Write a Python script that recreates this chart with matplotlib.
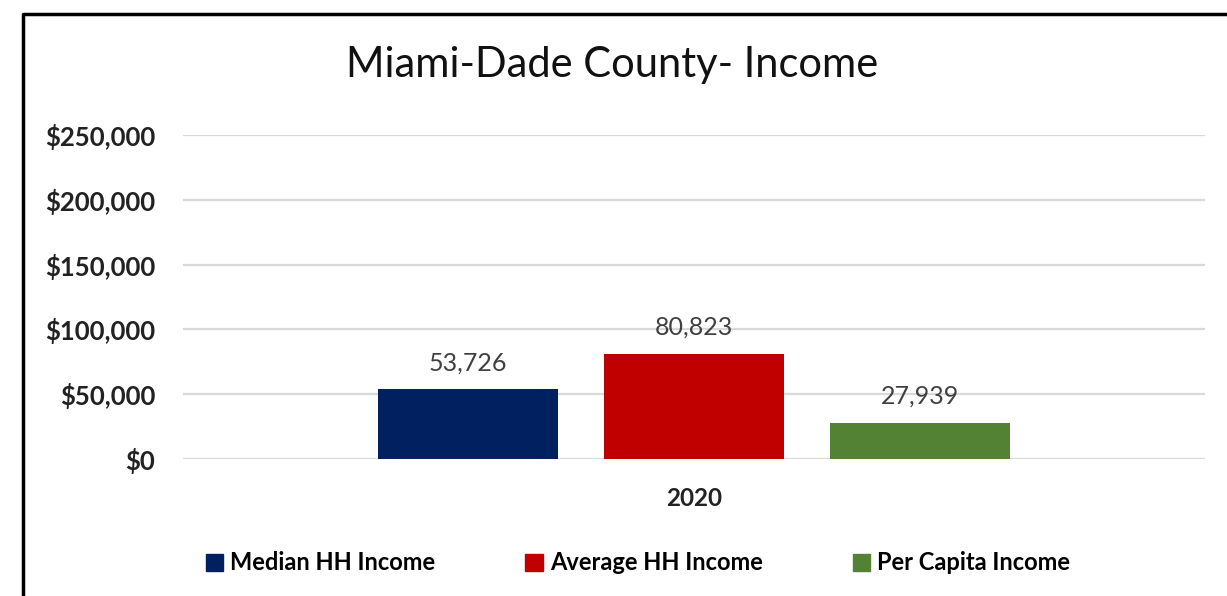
import matplotlib.pyplot as plt
from matplotlib.lines import Line2D
from matplotlib.patches import Patch

plt.rcParams['font.family'] = ['Lato', 'DejaVu Sans']

# data
year = ['2020']
series = ['Median HH Income', 'Average HH Income', 'Per Capita Income']
values = [53726, 80823, 27939]
colors = ['#002060', '#C00000', '#548235']
yticks = [0, 50000, 100000, 150000, 200000, 250000]

fig = plt.figure(figsize=(12.27, 5.96), dpi=100)
ax = fig.add_axes([183 / 1227, 1 - 459 / 596, (1205 - 183) / 1227, (459 - 135) / 596])

offsets = [-0.221, 0, 0.221]
w = 0.176
for off, v, c in zip(offsets, values, colors):
    ax.bar(off, v, width=w, color=c, zorder=3)
    ax.annotate(f'{v:,}', (off, v), xytext=(0, 11), textcoords='offset points',
                ha='center', va='bottom', fontsize=18, color='#404040')

ax.set_xlim(-0.5, 0.5)
ax.set_ylim(0, 250000)
ax.set_yticks(yticks)
ax.set_yticklabels([f'${t:,}' for t in yticks], fontsize=18.5, fontweight='bold', color='#222222')
ax.set_xticks([0])
ax.set_xticklabels(year, fontsize=17.5, fontweight='bold', color='#222222')
ax.tick_params(axis='both', length=0)
ax.tick_params(axis='y', pad=20)
ax.tick_params(axis='x', pad=20)
ax.grid(axis='y', color='#d9d9d9', linewidth=1.6, zorder=0)
for s in ax.spines.values():
    s.set_visible(False)

fig.text(612 / 1227, 1 - 65 / 596, 'Miami-Dade County- Income', ha='center', va='center',
         fontsize=30, color='#111111')

handles = [Patch(color=c) for c in colors]
fig.legend(handles, series, loc='center', bbox_to_anchor=(638 / 1227, 1 - 563 / 596),
           ncol=3, frameon=False, handlelength=0.75, handleheight=0.75, handletextpad=0.3,
           columnspacing=3.8, prop={'size': 17, 'weight': 'bold'})

# outer frame (top and left edges visible)
y_top = 1 - 14 / 596
x_left = 23 / 1227
fig.add_artist(Line2D([x_left, x_left, 1], [0, y_top, y_top], color='black', linewidth=2.5,
                      transform=fig.transFigure))

fig.savefig('out.png', dpi=100)
